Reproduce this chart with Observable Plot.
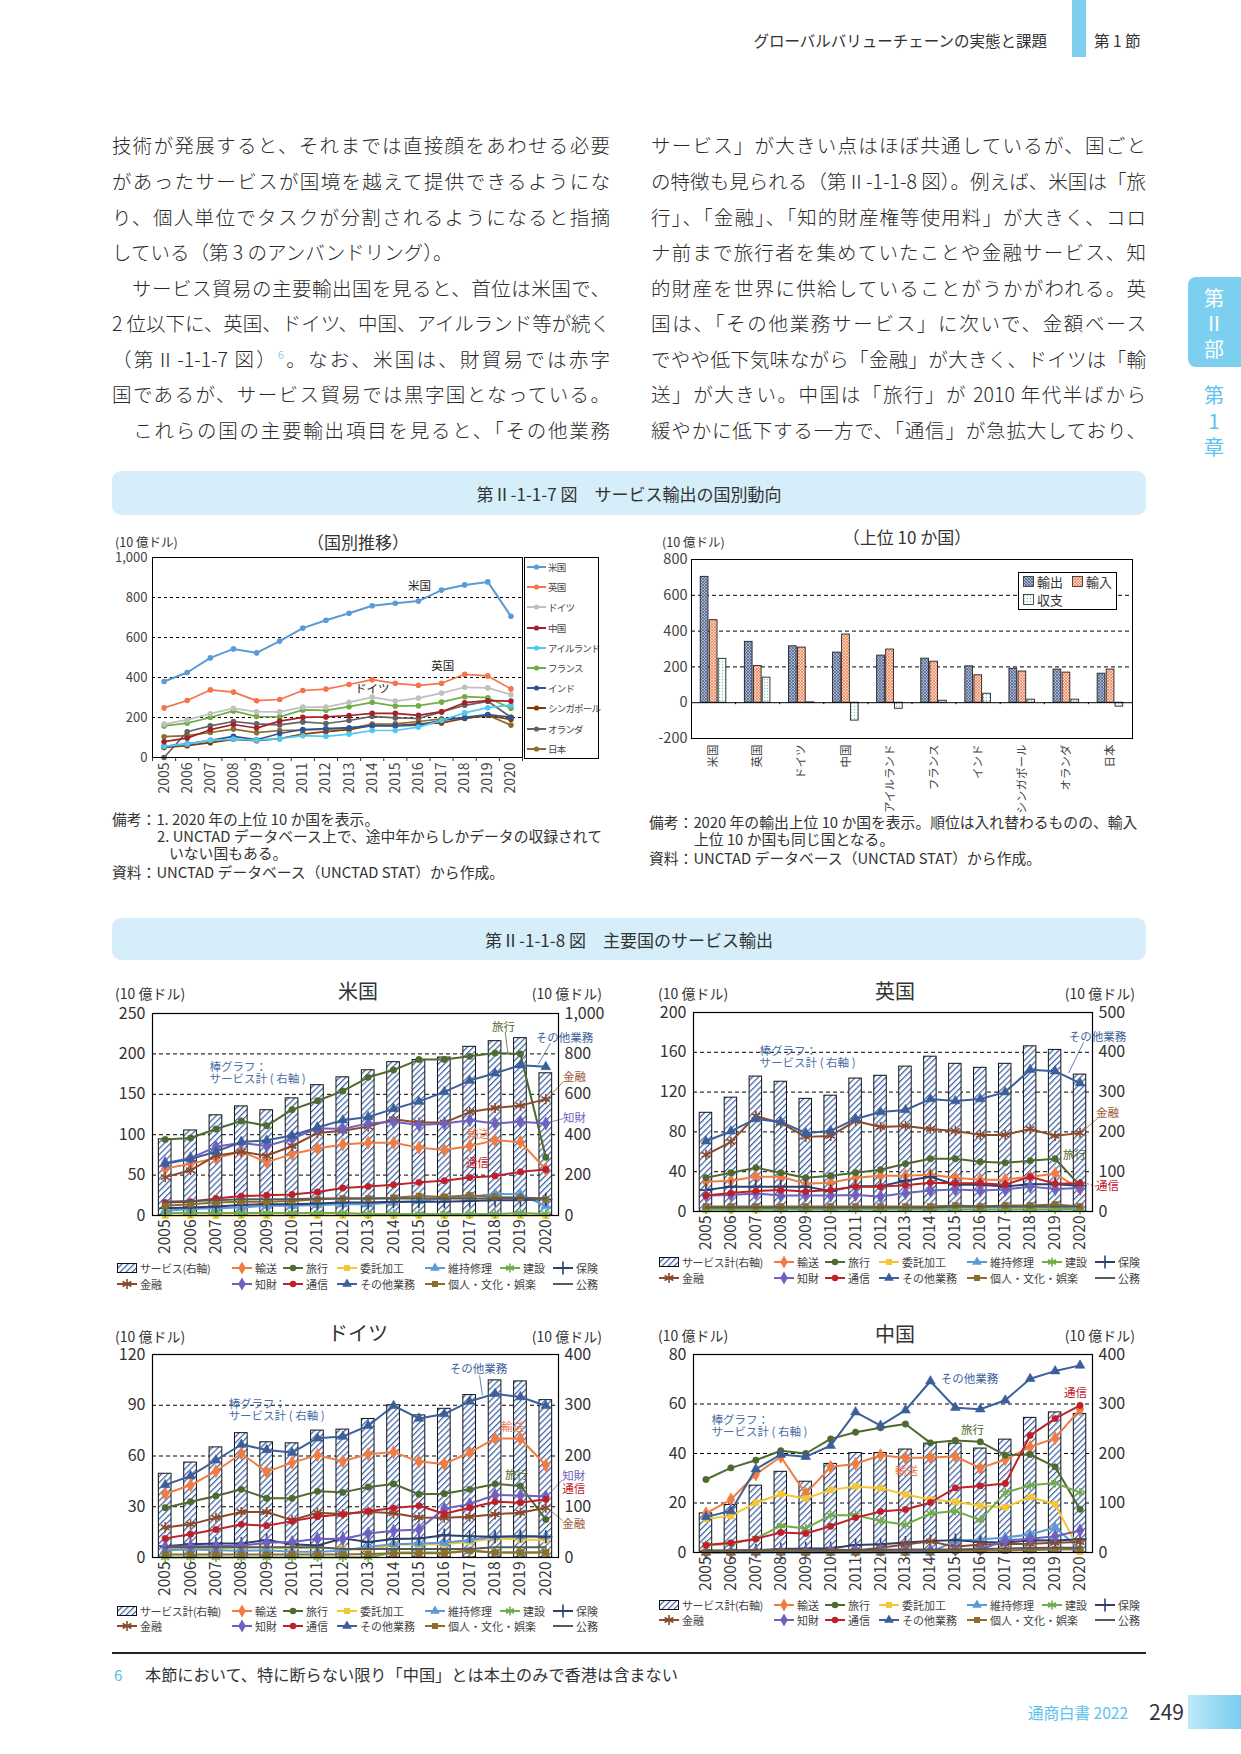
<!DOCTYPE html>
<html lang="ja"><head><meta charset="utf-8">
<script src="https://cdn.jsdelivr.net/npm/d3@7"></script>
<script src="https://cdn.jsdelivr.net/npm/@observablehq/plot@0.6"></script>
<style>
body{margin:0;background:#fff;}
#page{position:relative;width:1241px;height:1754px;overflow:hidden;font-family:"Noto Sans CJK JP","Noto Sans",sans-serif;color:#333;}
.chart{position:absolute;}
.chart svg{overflow:visible;}
</style></head>
<body><div id="page">
<svg width="0" height="0" style="position:absolute;left:0;top:0">
<defs>
<pattern id="pSvc" width="4.3" height="4.3" patternUnits="userSpaceOnUse" patternTransform="rotate(45)">
<rect width="4.3" height="4.3" fill="#fff"/><line x1="0.6" y1="0" x2="0.6" y2="4.3" stroke="#3f63a8" stroke-width="1.3"/>
</pattern>
<pattern id="pExp" width="3" height="3" patternUnits="userSpaceOnUse">
<rect width="3" height="3" fill="#aab6d2"/><path d="M0,0L3,3M3,0L0,3" stroke="#4a5a86" stroke-width="0.7"/>
</pattern>
<pattern id="pImp" width="3" height="3" patternUnits="userSpaceOnUse">
<rect width="3" height="3" fill="#fbd3c2"/><path d="M0,0L3,3M3,0L0,3" stroke="#ee7a4e" stroke-width="0.7"/>
</pattern>
<pattern id="pBal" width="3" height="3" patternUnits="userSpaceOnUse">
<rect width="3" height="3" fill="#fff"/><circle cx="1.5" cy="1.5" r="0.7" fill="#79c9b6"/>
</pattern>
</defs></svg>
</div>
<script>
// ---------------- DATA ----------------
const years = [2005,2006,2007,2008,2009,2010,2011,2012,2013,2014,2015,2016,2017,2018,2019,2020];

// Fig II-1-1-7 left: service exports by country (10億ドル)
const countries7 = ["米国","英国","ドイツ","中国","アイルランド","フランス","インド","シンガポール","オランダ","日本"];
const trend_us = [380,425,498,543,523,582,647,686,721,759,771,782,837,863,878,706];
const trend_uk = [248,285,338,327,284,290,335,342,365,389,371,361,371,416,408,343];
const trend_de = [167,188,219,246,229,228,252,252,276,302,282,297,322,351,348,314];
const trend_cn = [79,97,139,165,147,182,201,203,210,221,221,211,229,274,284,282];
const trend_ie = [56,68,86,92,87,94,109,106,117,135,135,152,185,223,249,262];
const trend_fr = [158,172,200,233,205,203,238,236,254,276,257,259,277,304,299,246];
const trend_in = [56,68,86,106,89,120,140,144,149,158,158,162,186,201,215,201];
const trend_sg = [50,59,74,91,84,94,117,129,139,160,160,168,173,195,211,190];
const trend_nl = [0,129,158,180,168,163,178,170,185,206,198,195,228,261,281,201];
const trend_jp = [104,109,125,142,124,135,137,142,145,167,168,180,193,196,211,162];

// Fig II-1-1-7 right: top 10 in 2020
const top10 = ["米国","英国","ドイツ","中国","アイルランド","フランス","インド","シンガポール","オランダ","日本"];
const exports2020 = [703,340,315,280,263,246,203,190,185,162];
const imports2020 = [461,205,308,381,297,229,153,174,168,185];
const balance2020 = [245,140,2,-100,-34,11,50,17,17,-22];
const barGroups = ["輸出","輸入","収支"];

// Fig II-1-1-8 series names
const seriesNames = ["輸送","旅行","委託加工","維持修理","建設","保険","金融","知財","通信","その他業務","個人・文化・娯楽","公務"];

// 米国
const us_svc = [377,421,496,540,521,580,645,684,719,759,770,782,835,863,878,704];
const us_trans = [58,64,71,79,66,76,83,88,90,90,84,81,86,93,91,57];
const us_travel = [94,96,107,117,111,131,142,154,171,180,193,193,197,201,200,72];
const us_proc = [0,0,0,0,0,0,0,0,0,0,0,0,0,0,0,0];
const us_maint = [6,8,9,10,12,12,13,14,14,16,18,21,23,27,26,12];
const us_const = [3,3,3,3,3,3,3,3,2,2,2,2,2,2,3,2];
const us_ins = [9,10,11,13,14,14,15,16,16,17,17,17,18,19,19,20];
const us_fin = [47.5,56,74,79,74,86,102,105,110,119,115,115,128,133,136,144];
const us_ip = [65,71,85,90,86,95,108,107,114,116,112,114,118,114,116,114];
const us_tel = [16,17,21,24,25,26,29,34,36,38,41,43,47,49,54,57];
const us_other = [64,70,79,91,93,99,109,118,122,132,141,153,167,176,186,184];
const us_pers = [12,14,16,17,17,18,20,21,21,22,24,23,25,23,22,20];
const us_gov = [17,18,19,20,20,20,21,21,21,21,21,21,21,21,22,21];

// 英国
const uk_svc = [248,286,339,326,283,291,334,341,364,389,371,361,371,415,406,344];
const uk_trans = [30,31,35,35,28,29,34,36,36,37,34,32,32,35,38,22.5];
const uk_travel = [34,39,44,39,34,36,39,42,48,53,53,50,49,51,53,26];
const uk_proc = [1.7,1.7,1.7,2.5,2.5,3,3,3.5,4,5,5,4.5,4.5,5,5.5,5];
const uk_maint = [3,3,3,3,3,3,3,3,3,3,4,4,4,4,4,3];
const uk_const = [2,2,2,2,2,2,2,2,2,2,2,2,2,2,2,2];
const uk_ins = [21.5,25,25,25,25,20.5,25.5,25.5,31,35,27,27,25,27.5,27.5,26];
const uk_fin = [57,70,96,89,75,76,91,85,86,83,81,77,77,83,76,79];
const uk_ip = [16,16.5,18,16,16,16,16.5,15,18.5,21,22,21,22,25,22.5,23.5];
const uk_tel = [16,18.5,20.5,21.5,20,21.5,25,25,26.5,29,28.5,28.5,27,35,28,28.5];
const uk_other = [70.6,80.7,93,90,79,81,93,100,102,113,111,113,120,142.5,141,129];
const uk_pers = [5,5,5,5,5,5,5,5,5,5,6,5,6,6,7,5];
const uk_gov = [4,4,4,4,4,4,4,4,4,4,5,5,5,5,5,5];

// ドイツ
const de_svc = [165,187,217,245,227,225,250,252,273,300,280,293,320,349,347,310];
const de_trans = [37.7,42.7,51,61.5,50.6,56.1,60.5,56.9,61.1,62.3,56.7,55.3,62,70.4,70.2,54.5];
const de_travel = [29.4,33,36.4,40.3,35,35,39.1,38.5,41.7,43.5,37.4,37.7,40.3,43.5,42.3,22.5];
const de_proc = [5.1,5.7,5.3,6.1,5.9,5.5,5.7,5.3,4.3,7.7,7.7,7.9,9.3,11.3,10.7,10.3];
const de_maint = [4.3,4.7,4.3,4,4.3,3.4,3.4,4,6.3,7.9,8.3,8.7,10.3,12.3,12.6,12.6];
const de_const = [0,0,0,0,0,0,0,0,0,3,3,3,4,3,3,3];
const de_ins = [6.7,7.9,8.3,8.3,10.3,7.9,7.1,11.3,9.1,10.9,11.3,13.2,12.6,12.3,12.6,12.3];
const de_fin = [17.8,19.6,23.5,26.9,26.9,22.1,26.5,25.7,27.1,26.1,23.7,23.5,24.1,25.5,26.5,29.4];
const de_ip = [6.3,6.7,6.7,7.1,8.7,9.1,11.1,10.9,14.2,15.8,16.6,28.9,31.6,37,36.6,36];
const de_tel = [11.3,13.8,16.6,19.6,18.8,21.5,24.1,25.5,27.3,29.2,30.6,25.9,29.4,33,32.4,34.4];
const de_other = [42.9,48.2,57.5,66.8,63.6,62,70.5,71.5,77.9,89.7,82.2,84.8,92.3,96.8,94.9,89.7];
const de_pers = [1.8,1.8,1.8,1.8,1.8,1.8,1.8,1.8,2,2.5,2.5,2.5,4,3,3,3];
const de_gov = [6,6,6,6,6,6,6,5,5,5,5,5,5,6,6,6];

// 中国
const cn_svc = [79,96,135,163,143,179,201,201,208,220,220,210,228,272,283,280];
const cn_trans = [15.8,21.4,31.6,38.7,23.8,34.6,35.8,39.3,38.2,38.4,38.8,34.1,37.6,42.6,46.2,57.8];
const cn_travel = [29.5,34.2,37.3,41.1,40,45.9,48.6,50.4,51.9,44.3,45.3,44.7,39.3,39.6,34.6,17.5];
const cn_proc = [13.6,14.8,20.1,23.6,21.8,25.3,26.7,26,23.4,21.4,20.5,18.9,18.3,22.4,19.5,0.3];
const cn_maint = [0,0,0,0,0,0,0,0,0,0,4.7,5.3,6.1,7.3,10.1,1.3];
const cn_const = [3,3.4,5.7,10.8,9.7,15.1,15.1,12.7,11.2,15.8,16.8,13.1,24.1,27.2,28.1,24.2];
const cn_ins = [0.5,0.6,0.9,1.4,1.6,1.7,3,3.3,4,4.6,5,4.2,4,4.9,4.8,5.4];
const cn_fin = [0.1,0.2,0.2,0.3,0.4,1.3,0.8,1.9,3.2,4.5,2.3,3.2,3.4,3.5,3.9,4.2];
const cn_ip = [0.2,0.2,0.3,0.4,0.4,0.8,0.7,1,0.9,0.7,1.1,1.2,4.8,5.6,6.6,8.9];
const cn_tel = [3,3.9,5.5,8.1,7.7,10.6,14.1,16.6,17.4,20.2,26.1,26.9,27.9,47.3,54.1,59.4];
const cn_other = [14.4,16.8,33.7,39.6,38.7,43.2,56.7,51.3,57.5,69.2,58.5,57.9,61.5,70.2,73.3,75.6];
const cn_pers = [0.1,0.1,0.2,0.3,0.1,0.1,0.1,0.1,0.1,0.2,0.7,0.7,0.8,1,1.2,1.3];
const cn_gov = [0.8,0.9,1,1.1,1.1,1,1,1.1,1.2,1.2,1.2,1.4,1.6,1.8,1.9,1.9];

// ---------------- STYLES ----------------
const FONT = '"Noto Sans CJK JP","Noto Sans",sans-serif';
const colors7 = ["#5b9bd5","#f4754a","#c0c0c0","#a5202a","#4fc9f0","#70ad47","#2f5597","#843c0c","#636363","#8c6d2c"];
const seriesStyle = [
  {color:"#f07c43", symbol:"diamond", r:4},
  {color:"#4e6a2f", symbol:"circle", r:3.2},
  {color:"#f4c534", symbol:"square", r:3.4},
  {color:"#5b9bd5", symbol:"triangle", r:3.6},
  {color:"#70ad47", symbol:"asterisk", r:4.3, hollow:true},
  {color:"#2f3f6e", symbol:"plus", r:4.3, hollow:true},
  {color:"#8b4a2b", symbol:"asterisk", r:4.8, hollow:true},
  {color:"#7060c0", symbol:"diamond", r:4},
  {color:"#c0202a", symbol:"circle", r:3.2},
  {color:"#3c5f9c", symbol:"triangle", r:3.6},
  {color:"#8c6d2c", symbol:"square", r:3.4},
  {color:"#595959", symbol:null}
];

const page = document.getElementById("page");
function txt(s, x, cy, size, o = {}) {
  const d = document.createElement("div");
  const lh = Math.round(size * 1.25);
  d.innerHTML = s;
  d.style.cssText = `position:absolute;white-space:nowrap;font-size:${size}px;line-height:${lh}px;color:${o.color||"#333"};font-weight:${o.weight||400};letter-spacing:${o.ls||0}px;`;
  d.style.left = x + "px";
  d.style.top = (cy - lh / 2) + "px";
  if (o.align === "center") d.style.transform = "translateX(-50%)";
  if (o.align === "right") d.style.transform = "translateX(-100%)";
  page.appendChild(d);
  return d;
}
function box(x, y, w, h, css) {
  const d = document.createElement("div");
  d.style.cssText = `position:absolute;left:${x}px;top:${y}px;width:${w}px;height:${h}px;${css}`;
  page.appendChild(d);
  return d;
}
function place(svg, x, y) {
  const d = document.createElement("div");
  d.className = "chart";
  d.style.left = x + "px"; d.style.top = y + "px";
  d.appendChild(svg);
  page.appendChild(d);
}

// ---------------- PAGE HEADER ----------------
txt("グローバルバリューチェーンの実態と課題", 1047, 40, 15.5, {align:"right", color:"#333"});
box(1072, 0, 14, 57, "background:#7ccfee;");
txt("第 1 節", 1094, 40, 15.5, {color:"#333"});

// side tab
box(1188, 277, 53, 90, "background:#7ccfee;border-radius:8px 0 0 8px;");
txt("第", 1214, 297, 20, {align:"center", color:"#fff"});
txt("Ⅱ", 1214, 322, 20, {align:"center", color:"#fff"});
txt("部", 1214, 348, 20, {align:"center", color:"#fff"});
txt("第", 1214, 394, 20, {align:"center", color:"#5cc3ec"});
txt("1", 1214, 420, 20, {align:"center", color:"#5cc3ec"});
txt("章", 1214, 446, 20, {align:"center", color:"#5cc3ec"});

// body text
function bodyLine(html, x, w, cy, justify = true) {
  const d = document.createElement("div");
  d.innerHTML = html;
  d.style.cssText = `position:absolute;left:${x}px;top:${cy - 14}px;width:${w}px;height:28px;line-height:28px;font-size:19.5px;font-weight:300;white-space:nowrap;color:#2a2a2a;text-align:${justify ? "justify" : "left"};text-align-last:${justify ? "justify" : "left"};`;
  page.appendChild(d);
  const sw = d.scrollWidth;
  if (sw > w) {
    const n = d.textContent.length;
    d.style.letterSpacing = ((w - sw) / n - 0.05) + "px";
  }
}
const lineY = [145,181,217,252,288,323,359,394,430];
const leftLines = [
  "技術が発展すると、それまでは直接顔をあわせる必要",
  "があったサービスが国境を越えて提供できるようにな",
  "り、個人単位でタスクが分割されるようになると指摘",
  null,
  "　サービス貿易の主要輸出国を見ると、首位は米国で、",
  "2 位以下に、英国、ドイツ、中国、アイルランド等が続く",
  "（第Ⅱ-1-1-7 図）<sup style='color:#4fbfea;font-size:11px;vertical-align:8px;line-height:0'>6</sup>。なお、米国は、財貿易では赤字",
  "国であるが、サービス貿易では黒字国となっている。",
  "　これらの国の主要輸出項目を見ると、「その他業務"
];
leftLines.forEach((s, i) => { if (s) bodyLine(s, 112, 498, lineY[i]); });
bodyLine("している（第 3 のアンバンドリング）。", 112, 498, lineY[3], false);
const rightLines = [
  "サービス」が大きい点はほぼ共通しているが、国ごと",
  "の特徴も見られる（第Ⅱ-1-1-8 図）。例えば、米国は「旅",
  "行」、「金融」、「知的財産権等使用料」が大きく、コロ",
  "ナ前まで旅行者を集めていたことや金融サービス、知",
  "的財産を世界に供給していることがうかがわれる。英",
  "国は、「その他業務サービス」に次いで、金額ベース",
  "でやや低下気味ながら「金融」が大きく、ドイツは「輸",
  "送」が大きい。中国は「旅行」が 2010 年代半ばから",
  "緩やかに低下する一方で、「通信」が急拡大しており、"
];
rightLines.forEach((s, i) => bodyLine(s, 651, 495, lineY[i]));

// figure banners
box(112, 471, 1034, 44, "background:#d5eef9;border-radius:9px;");
txt("第Ⅱ-1-1-7 図　サービス輸出の国別動向", 629, 493, 17, {align:"center", color:"#333"});
box(112, 918, 1034, 42, "background:#d5eef9;border-radius:9px;");
txt("第Ⅱ-1-1-8 図　主要国のサービス輸出", 629, 939, 17, {align:"center", color:"#333"});

const baseStyle = {fontFamily: FONT, color: "#333", background: "transparent", overflow: "visible"};

// ---------------- FIG 7 LEFT ----------------
const trends7 = [trend_us, trend_uk, trend_de, trend_cn, trend_ie, trend_fr, trend_in, trend_sg, trend_nl, trend_jp];
txt("(10 億ドル)", 115, 542, 12.5);
txt("（国別推移）", 358, 541, 17, {align:"center"});
{
  const lineMarks = [];
  trends7.forEach((vals, k) => {
    lineMarks.push(Plot.line(years, {x: d => d, y: (d, i) => vals[i], stroke: colors7[k], strokeWidth: k === 0 ? 2 : 1.7}));
    lineMarks.push(Plot.dot(years, {x: d => d, y: (d, i) => vals[i], r: 2.8, fill: colors7[k]}));
  });
  lineMarks.reverse();
  const p = Plot.plot({
    width: 424, height: 262, marginLeft: 52, marginRight: 2, marginTop: 17, marginBottom: 45,
    style: {...baseStyle, fontSize: "13px"},
    x: {domain: [2004.5, 2020.5]}, y: {domain: [0, 1000]},
    marks: [
      Plot.ruleY([200, 400, 600, 800], {stroke: "#000", strokeDasharray: "3,3", strokeWidth: 1}),
      ...lineMarks,
      Plot.frame({stroke: "#000"}),
      Plot.axisY({ticks: d3.range(0, 1001, 200), tickFormat: d3.format(","), tickSize: 0, tickPadding: 5, fontSize: 13, label: null, fill: "#444"}),
      Plot.axisX({ticks: years, tickFormat: d => String(d), tickRotate: -90, tickSize: 0, tickPadding: 5, fontSize: 14, label: null, fill: "#444"}),
      Plot.axisX({ticks: d3.range(2004.5, 2021, 1), tickFormat: () => "", tickSize: 4, label: null}),
      Plot.text([{t: "米国", x: 2016.05, y: 856}, {t: "英国", x: 2017.05, y: 455}, {t: "ドイツ", x: 2014.0, y: 341}],
        {x: "x", y: "y", text: "t", fontSize: 11.5, fill: "#222"})
    ]
  });
  place(p, 100, 540);
  // legend box
  box(524, 557, 75, 202, "border:1px solid #000;box-sizing:border-box;background:#fff;");
  countries7.forEach((c, k) => {
    const cy = 567 + k * 20.2;
    const s = d3.create("svg").attr("width", 20).attr("height", 10)
      .style("position", "absolute").style("left", "527px").style("top", (cy - 5) + "px");
    s.append("line").attr("x1", 0).attr("x2", 19).attr("y1", 5).attr("y2", 5).attr("stroke", colors7[k]).attr("stroke-width", 2);
    s.append("circle").attr("cx", 9.5).attr("cy", 5).attr("r", 2.6).attr("fill", colors7[k]);
    page.appendChild(s.node());
    txt(c, 548, cy, 9.5, {ls: -0.8, color: "#444"});
  });
}
// notes
txt("備考：1. 2020 年の上位 10 か国を表示。", 112, 818, 14.8, {color:"#333"});
txt("2. UNCTAD データベース上で、途中年からしかデータの収録されて", 157, 835, 14.8, {color:"#333"});
txt("いない国もある。", 169, 852, 14.8, {color:"#333"});
txt("資料：UNCTAD データベース（UNCTAD STAT）から作成。", 112, 871, 14.8, {color:"#333"});

// ---------------- FIG 7 RIGHT ----------------
txt("(10 億ドル)", 662, 542, 12.5);
txt("（上位 10 か国）", 907, 536, 17, {align:"center"});
{
  const vals = [exports2020, imports2020, balance2020];
  const fills = ["url(#pExp)", "url(#pImp)", "url(#pBal)"];
  const off = [0.21, 0.415, 0.615], bw = 0.175;
  const barMarks = vals.map((v, g) => Plot.rect(top10, {
    x1: (d, i) => i + off[g], x2: (d, i) => i + off[g] + bw,
    y1: () => 0, y2: (d, i) => v[i], fill: fills[g], stroke: "#222", strokeWidth: 0.9
  }));
  const p = Plot.plot({
    width: 500, height: 262, marginLeft: 51, marginRight: 8, marginTop: 19, marginBottom: 64,
    style: {...baseStyle, fontSize: "14px"},
    x: {domain: [0, 10]}, y: {domain: [-200, 800]},
    marks: [
      Plot.ruleY([200, 400, 600], {stroke: "#000", strokeDasharray: "4,3", strokeWidth: 1}),
      ...barMarks,
      Plot.ruleY([0], {stroke: "#000", strokeWidth: 1}),
      Plot.ruleX(d3.range(1, 10), {x: d => d, y1: () => 0, y2: () => -11, stroke: "#000"}),
      Plot.frame({stroke: "#000"}),
      Plot.axisY({ticks: d3.range(-200, 801, 200), tickFormat: d => String(d), tickSize: 0, tickPadding: 4, fontSize: 14.5, label: null, fill: "#444"}),
      Plot.axisX({ticks: d3.range(0.5, 10, 1), tickFormat: d => top10[Math.floor(d)], tickRotate: -90, tickSize: 0, tickPadding: 6, fontSize: 11.5, label: null, fill: "#444"})
    ]
  });
  place(p, 640, 540);
  box(1018, 572, 99, 38, "border:1px solid #000;box-sizing:border-box;background:#fff;");
  const lg = [[1023, 582, 0], [1072, 582, 1], [1023, 600, 2]];
  lg.forEach(([x, cy, g]) => {
    const s = d3.create("svg").attr("width", 12).attr("height", 12)
      .style("position", "absolute").style("left", x + "px").style("top", (cy - 6) + "px");
    s.append("rect").attr("x", 0.5).attr("y", 0.5).attr("width", 10).attr("height", 10).attr("fill", fills[g]).attr("stroke", "#222").attr("stroke-width", 0.8);
    page.appendChild(s.node());
    txt(barGroups[g], x + 14, cy, 13, {color: "#333"});
  });
}
txt("備考：2020 年の輸出上位 10 か国を表示。順位は入れ替わるものの、輸入", 649, 821, 14.8, {color:"#333"});
txt("上位 10 か国も同じ国となる。", 694, 838, 14.8, {color:"#333"});
txt("資料：UNCTAD データベース（UNCTAD STAT）から作成。", 649, 857, 14.8, {color:"#333"});

// ---------------- FIG 8 PANELS ----------------
const symbolMap = {circle: d3.symbolCircle, diamond: d3.symbolDiamond, square: d3.symbolSquare, triangle: d3.symbolTriangle, asterisk: d3.symbolAsterisk, plus: d3.symbolPlus};

function panel(cfg) {
  const f = cfg.rMax / cfg.yMax;
  const ticks = d3.range(0, cfg.yMax + 1e-9, cfg.yStep);
  const grid = ticks.filter(t => t > 0 && t < cfg.yMax);
  const marks = [
    Plot.ruleY(grid, {stroke: "#000", strokeDasharray: "4,3", strokeWidth: 1}),
    Plot.rect(years, {x1: d => d - 0.25, x2: d => d + 0.25, y1: () => 0, y2: (d, i) => cfg.bars[i] / f, fill: "url(#pSvc)", stroke: "#111", strokeWidth: 1})
  ];
  cfg.series.forEach((vals, k) => {
    const st = seriesStyle[k];
    marks.push(Plot.line(years, {x: d => d, y: (d, i) => vals[i], stroke: st.color, strokeWidth: 2}));
    if (st.symbol) {
      marks.push(Plot.dot(years, {x: d => d, y: (d, i) => vals[i], symbol: st.symbol, r: st.r,
        fill: st.hollow ? "none" : st.color, stroke: st.color, strokeWidth: st.hollow ? 1.6 : 0.6}));
    }
  });
  for (const a of cfg.links) {
    marks.push(Plot.link([a], {x1: d => d[0], y1: d => d[1], x2: d => d[2], y2: d => d[3], stroke: a[4], strokeWidth: 0.8, strokeDasharray: a[5] || null}));
  }
  marks.push(Plot.frame({stroke: "#000", strokeWidth: 1.2}));
  marks.push(Plot.axisY({anchor: "left", ticks, tickSize: 0, tickPadding: 7, fontSize: 16, label: null, fill: "#333", tickFormat: d => String(d)}));
  marks.push(Plot.axisY({anchor: "right", ticks, tickSize: 0, tickPadding: 6, fontSize: 16, label: null, fill: "#333", tickFormat: d => d3.format(",")(Math.round(d * f))}));
  marks.push(Plot.axisX({ticks: years, tickFormat: d => String(d), tickRotate: -90, tickSize: 0, tickPadding: 4, fontSize: 15.5, label: null, fill: "#333"}));
  marks.push(Plot.text(cfg.labels, {x: d => d[1], y: d => d[2], text: d => d[0], fill: d => d[3], textAnchor: "middle", fontSize: 11.5}));
  marks.push(Plot.text([cfg.barNote], {x: d => d[1], y: d => d[2], text: d => d[0], fill: "#4a6fa5", textAnchor: "start", fontSize: 11.5, lineHeight: 1.05}));
  const p = Plot.plot({
    width: cfg.w, height: cfg.h, marginLeft: cfg.mL, marginRight: cfg.mR, marginTop: cfg.mT, marginBottom: cfg.mB,
    style: {...baseStyle, fontSize: "16px"},
    x: {domain: [2004.5, 2020.5]}, y: {domain: [0, cfg.yMax]},
    marks
  });
  place(p, cfg.x, cfg.y);
  // title and units
  txt(cfg.title, cfg.titleX, cfg.titleY, 20, {align: "center", color: "#333"});
  txt("(10 億ドル)", cfg.unitL, cfg.unitY - 4, 14, {color: "#333"});
  txt("(10 億ドル)", cfg.unitR, cfg.unitY - 4, 14, {align: "right", color: "#333"});
  // legend
  const row1 = [-1, 0, 1, 2, 3, 4, 5], cols1 = [17, 132, 183, 237, 325, 400, 453];
  const row2 = [6, 7, 8, 9, 10, 11], cols2 = [17, 132, 183, 237, 325, 453];
  const item = (k, col, cy) => {
    const x = cfg.x + col + cfg.legDx;
    const s = d3.create("svg").attr("width", 21).attr("height", 12)
      .style("position", "absolute").style("left", x + "px").style("top", (cy - 6) + "px").style("overflow", "visible");
    let label;
    if (k < 0) {
      s.append("rect").attr("x", 0.5).attr("y", 1.5).attr("width", 19).attr("height", 9).attr("fill", "url(#pSvc)").attr("stroke", "#111");
      label = cfg.svcLabel;
    } else {
      const st = seriesStyle[k];
      s.append("line").attr("x1", 0).attr("x2", 20).attr("y1", 6).attr("y2", 6).attr("stroke", st.color).attr("stroke-width", 2);
      if (st.symbol) {
        const path = d3.symbol(symbolMap[st.symbol], st.r * st.r * Math.PI)();
        const el = s.append("path").attr("d", path).attr("transform", "translate(10,6)");
        if (st.hollow) el.attr("fill", "none").attr("stroke", st.color).attr("stroke-width", 1.6);
        else el.attr("fill", st.color);
      }
      label = seriesNames[k];
    }
    page.appendChild(s.node());
    txt(label, x + 23, cy, 11, {color: "#444", ls: k < 0 ? -0.4 : 0});
  };
  row1.forEach((k, j) => item(k, cols1[j], cfg.legY1));
  row2.forEach((k, j) => item(k, cols2[j], cfg.legY2));
}

const LBL = {other: "#3c5f9c", travel: "#4e6a2f", fin: "#9e5a3a", ip: "#7060c0", trans: "#f07c50", tel: "#c0202a"};
const BAR_NOTE = "棒グラフ：\nサービス計 ( 右軸 )";

panel({
  title: "米国", titleX: 358, titleY: 990, unitL: 115, unitR: 602, unitY: 997,
  x: 100, y: 1000, w: 510, h: 262, mL: 52, mR: 52, mT: 13, mB: 47,
  yMax: 250, yStep: 50, rMax: 1000,
  bars: us_svc,
  series: [us_trans, us_travel, us_proc, us_maint, us_const, us_ins, us_fin, us_ip, us_tel, us_other, us_pers, us_gov],
  barNote: [BAR_NOTE, 2006.75, 176],
  labels: [
    ["旅行", 2018.33, 233, LBL.travel],
    ["その他業務", 2020.74, 219, LBL.other],
    ["金融", 2021.13, 171, LBL.fin],
    ["知財", 2021.13, 120, LBL.ip],
    ["輸送", 2017.35, 101, LBL.trans],
    ["通信", 2017.3, 64, LBL.tel]
  ],
  links: [
    [2018.4, 227, 2018.5, 202, LBL.travel],
    [2020.18, 213, 2019.7, 187, LBL.other],
    [2020.7, 166, 2020.07, 145, LBL.fin],
    [2020.7, 120, 2020.1, 115, LBL.ip]
  ],
  svcLabel: "サービス(右軸)", legDx: 0, legY1: 1268, legY2: 1284
});

panel({
  title: "英国", titleX: 895, titleY: 990, unitL: 658, unitR: 1135, unitY: 997,
  x: 640, y: 1000, w: 505, h: 258, mL: 53, mR: 53, mT: 12, mB: 47,
  yMax: 200, yStep: 40, rMax: 500,
  bars: uk_svc,
  series: [uk_trans, uk_travel, uk_proc, uk_maint, uk_const, uk_ins, uk_fin, uk_ip, uk_tel, uk_other, uk_pers, uk_gov],
  barNote: [BAR_NOTE, 2007.15, 155],
  labels: [
    ["その他業務", 2020.7, 175, LBL.other],
    ["金融", 2021.1, 98.5, LBL.fin],
    ["旅行", 2019.78, 56, LBL.travel],
    ["通信", 2021.1, 25, LBL.tel]
  ],
  links: [
    [2020.14, 170, 2019.54, 139, LBL.other],
    [2020.7, 93.5, 2020.14, 81.4, LBL.fin],
    [2020.66, 25.1, 2020.14, 29.1, LBL.tel, "2,2"]
  ],
  svcLabel: "サービス計(右軸)", legDx: 2, legY1: 1262, legY2: 1278
});

panel({
  title: "ドイツ", titleX: 358, titleY: 1332, unitL: 115, unitR: 602, unitY: 1340,
  x: 100, y: 1340, w: 510, h: 262, mL: 52, mR: 52, mT: 14, mB: 45,
  yMax: 120, yStep: 30, rMax: 400,
  bars: de_svc,
  series: [de_trans, de_travel, de_proc, de_maint, de_const, de_ins, de_fin, de_ip, de_tel, de_other, de_pers, de_gov],
  barNote: [BAR_NOTE, 2007.5, 87],
  labels: [
    ["その他業務", 2017.35, 111, LBL.other],
    ["輸送", 2018.69, 77, LBL.trans],
    ["旅行", 2018.84, 48.5, LBL.travel],
    ["知財", 2021.1, 48, LBL.ip],
    ["通信", 2021.1, 40.2, LBL.tel],
    ["金融", 2021.1, 19.5, LBL.fin]
  ],
  links: [
    [2017.39, 107.6, 2017.5, 95.7, LBL.other],
    [2020.66, 46, 2020.07, 36.6, LBL.ip],
    [2020.66, 21.9, 2020.07, 29, LBL.fin]
  ],
  svcLabel: "サービス計(右軸)", legDx: 0, legY1: 1611, legY2: 1626
});

panel({
  title: "中国", titleX: 895, titleY: 1333, unitL: 658, unitR: 1135, unitY: 1339,
  x: 640, y: 1340, w: 505, h: 258, mL: 53, mR: 53, mT: 14, mB: 46,
  yMax: 80, yStep: 20, rMax: 400,
  bars: cn_svc,
  series: [cn_trans, cn_travel, cn_proc, cn_maint, cn_const, cn_ins, cn_fin, cn_ip, cn_tel, cn_other, cn_pers, cn_gov],
  barNote: [BAR_NOTE, 2005.22, 51],
  labels: [
    ["その他業務", 2015.57, 70, LBL.other],
    ["通信", 2019.82, 64.2, LBL.tel],
    ["旅行", 2015.69, 49.3, LBL.travel],
    ["輸送", 2013.04, 32.7, LBL.trans]
  ],
  links: [],
  svcLabel: "サービス計(右軸)", legDx: 2, legY1: 1605, legY2: 1620
});

// ---------------- FOOTER ----------------
box(112, 1652, 1034, 1.5, "background:#222;");
txt("6", 114, 1674, 15, {color: "#4fbfea"});
txt("本節において、特に断らない限り「中国」とは本土のみで香港は含まない", 145, 1674, 16.2, {color: "#333"});
txt("通商白書 2022", 1128, 1712, 15.5, {align: "right", color: "#5cc3ec"});
txt("249", 1149, 1711, 21, {color: "#333"});
box(1188, 1695, 53, 34, "background:linear-gradient(to right,#bfe9f8,#78cdee);");
</script>
</body></html>
